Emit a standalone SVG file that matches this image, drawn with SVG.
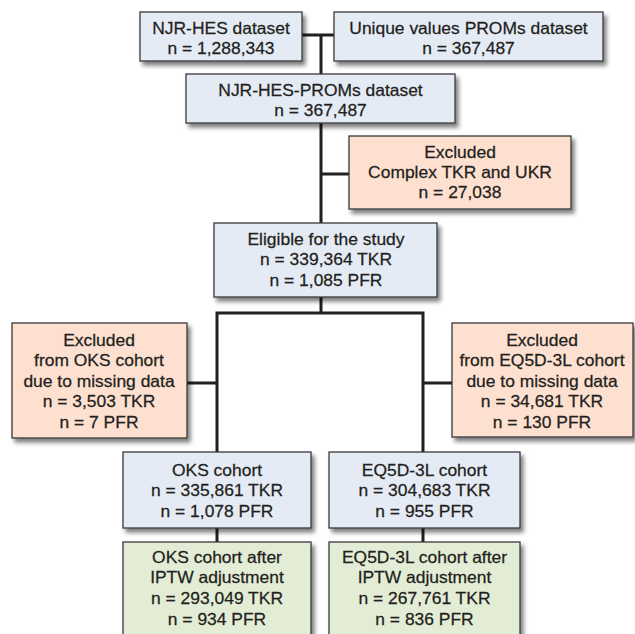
<svg xmlns="http://www.w3.org/2000/svg" width="635" height="634" viewBox="0 0 635 634">
<defs>
<filter id="sh" x="-10%" y="-10%" width="130%" height="140%">
<feDropShadow dx="3" dy="4" stdDeviation="2.2" flood-color="#000" flood-opacity="0.5"/>
</filter>
<style>
.box{stroke:#3a3a3a;stroke-width:1.3;filter:url(#sh)}
.blue{fill:#e5ebf5}
.orange{fill:#fde0cf}
.green{fill:#e3edd6}
.t{font-family:"Liberation Sans",Arial,sans-serif;font-size:16.3px;fill:#231f20;stroke:#231f20;stroke-width:0.25;text-anchor:middle}
.c{fill:none;stroke:#231f20;stroke-width:3}
</style>
</defs>
<rect width="635" height="634" fill="#fff"/>
<g id="connectors">
<path class="c" d="M302,35 H334 M321,35 V74 M321,123 V223 M321,174 H349 M321,297 V313 M217,452 V313 H423 V452 M187,383 H217 M423,383 H452 M217,528 V542 M423,528 V542"/>
</g>
<g id="njr-hes">
<rect class="box blue" x="140" y="12" width="162" height="49"/>
<g transform="translate(221,0) scale(1.07,1)"><text class="t"><tspan x="0" y="34">NJR-HES dataset</tspan><tspan x="0" y="54">n = 1,288,343</tspan></text></g>
</g>
<g id="proms">
<rect class="box blue" x="334" y="12" width="269" height="49"/>
<g transform="translate(468.5,0) scale(1.07,1)"><text class="t"><tspan x="0" y="34">Unique values PROMs dataset</tspan><tspan x="0" y="54">n = 367,487</tspan></text></g>
</g>
<g id="njr-hes-proms">
<rect class="box blue" x="186" y="74" width="269" height="49"/>
<g transform="translate(320.5,0) scale(1.07,1)"><text class="t"><tspan x="0" y="96">NJR-HES-PROMs dataset</tspan><tspan x="0" y="116">n = 367,487</tspan></text></g>
</g>
<g id="excluded-complex">
<rect class="box orange" x="349" y="136" width="222" height="73"/>
<g transform="translate(460,0) scale(1.07,1)"><text class="t"><tspan x="0" y="158">Excluded</tspan><tspan x="0" y="178">Complex TKR and UKR</tspan><tspan x="0" y="198">n = 27,038</tspan></text></g>
</g>
<g id="eligible">
<rect class="box blue" x="214" y="223" width="223" height="74"/>
<g transform="translate(326,0) scale(1.07,1)"><text class="t"><tspan x="0" y="245">Eligible for the study</tspan><tspan x="0" y="265.5">n = 339,364 TKR</tspan><tspan x="0" y="286">n = 1,085 PFR</tspan></text></g>
</g>
<g id="excluded-oks">
<rect class="box orange" x="12" y="323" width="175" height="115"/>
<g transform="translate(99,0) scale(1.07,1)"><text class="t"><tspan x="0" y="346">Excluded</tspan><tspan x="0" y="366.5">from OKS cohort</tspan><tspan x="0" y="387">due to missing data</tspan><tspan x="0" y="407.5">n = 3,503 TKR</tspan><tspan x="0" y="428">n = 7 PFR</tspan></text></g>
</g>
<g id="excluded-eq5d">
<rect class="box orange" x="452" y="323" width="181" height="114"/>
<g transform="translate(542,0) scale(1.07,1)"><text class="t"><tspan x="0" y="346">Excluded</tspan><tspan x="0" y="366.5">from EQ5D-3L cohort</tspan><tspan x="0" y="387">due to missing data</tspan><tspan x="0" y="407.5">n = 34,681 TKR</tspan><tspan x="0" y="428">n = 130 PFR</tspan></text></g>
</g>
<g id="oks-cohort">
<rect class="box blue" x="123" y="452" width="188" height="76"/>
<g transform="translate(217,0) scale(1.07,1)"><text class="t"><tspan x="0" y="476">OKS cohort</tspan><tspan x="0" y="496.5">n = 335,861 TKR</tspan><tspan x="0" y="517">n = 1,078 PFR</tspan></text></g>
</g>
<g id="eq5d-cohort">
<rect class="box blue" x="329" y="452" width="191" height="76"/>
<g transform="translate(424.5,0) scale(1.07,1)"><text class="t"><tspan x="0" y="476">EQ5D-3L cohort</tspan><tspan x="0" y="496.5">n = 304,683 TKR</tspan><tspan x="0" y="517">n = 955 PFR</tspan></text></g>
</g>
<g id="oks-iptw">
<rect class="box green" x="123" y="542" width="188" height="100"/>
<g transform="translate(217,0) scale(1.07,1)"><text class="t"><tspan x="0" y="563">OKS cohort after</tspan><tspan x="0" y="583.5">IPTW adjustment</tspan><tspan x="0" y="604">n = 293,049 TKR</tspan><tspan x="0" y="625">n = 934 PFR</tspan></text></g>
</g>
<g id="eq5d-iptw">
<rect class="box green" x="329" y="542" width="191" height="100"/>
<g transform="translate(424.5,0) scale(1.07,1)"><text class="t"><tspan x="0" y="563">EQ5D-3L cohort after</tspan><tspan x="0" y="583.5">IPTW adjustment</tspan><tspan x="0" y="604">n = 267,761 TKR</tspan><tspan x="0" y="625">n = 836 PFR</tspan></text></g>
</g>
</svg>
